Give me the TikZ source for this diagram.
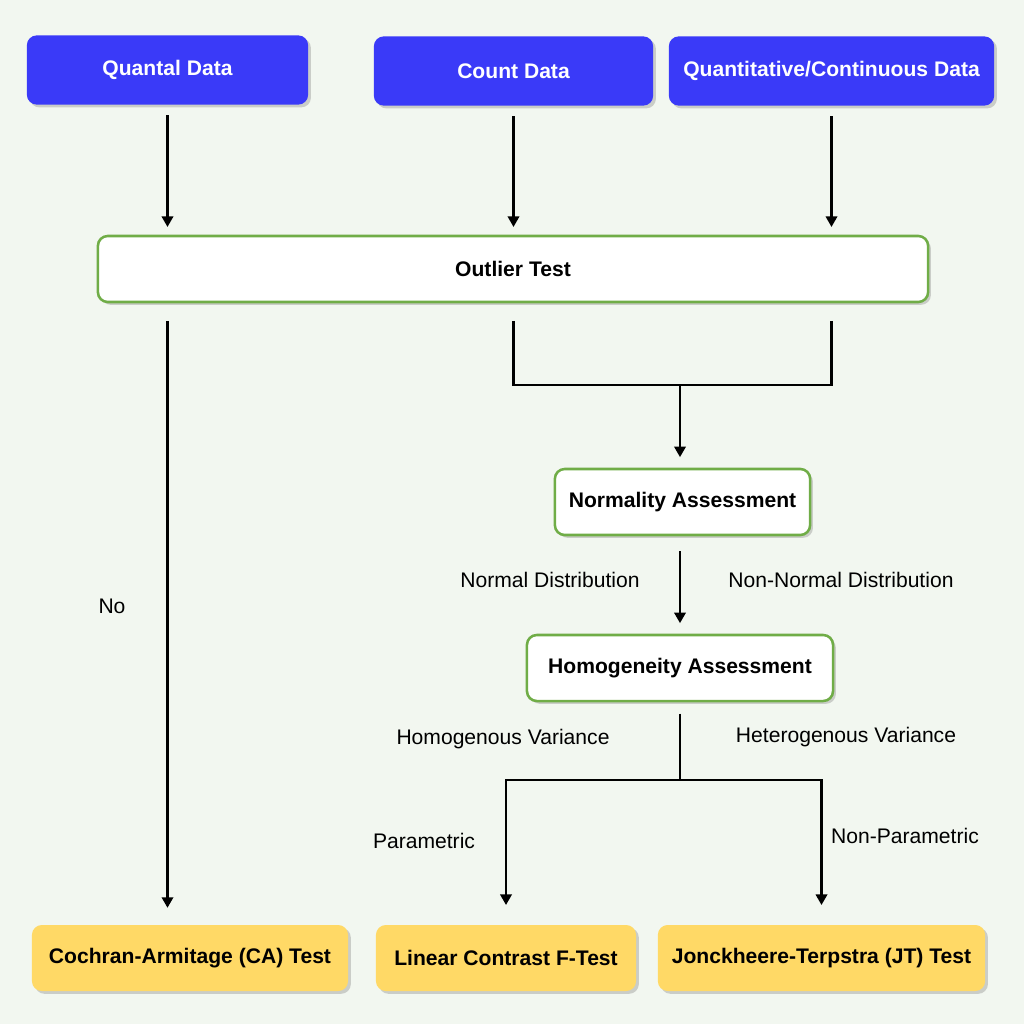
\documentclass[tikz,border=0pt]{standalone}
\usepackage{fontspec}
\setmainfont{Liberation Sans}
\usepackage{tikz}
\usetikzlibrary{calc,positioning,arrows.meta,shadows}

\definecolor{bgtint}{RGB}{242,247,240}
\definecolor{datablue}{RGB}{58,58,248}
\definecolor{stepgreen}{RGB}{112,173,71}
\definecolor{testyellow}{RGB}{255,217,102}

\tikzset{
  box/.style={rounded corners=7pt,inner sep=0pt,align=center,font=\fontsize{15}{18}\selectfont\bfseries,
    drop shadow={opacity=0.35,shadow xshift=2pt,shadow yshift=-2pt}},
  databox/.style={box,fill=datablue,text=white,minimum height=1.73cm},
  checkbox/.style={box,fill=white,draw=stepgreen,line width=1.8pt,minimum height=1.65cm},
  testbox/.style={box,fill=testyellow,minimum height=1.65cm},
  tag/.style={font=\fontsize{15}{18}\selectfont},
  arr/.style={-{Triangle[width=8pt,length=7.5pt]},line width=1.8pt},
  link/.style={line width=1.8pt}
}

\begin{document}
\begin{tikzpicture}[x=0.025cm,y=-0.025cm]
  \fill[bgtint] (0,0) rectangle (1024,1024);
  \useasboundingbox (0,0) rectangle (1024,1024);

  % data types
  \node[databox,minimum width=7.03cm] (qd) at (167.5,70) {Quantal Data};
  \node[databox,minimum width=6.98cm] (cd) at (513.5,71) {Count Data};
  \node[databox,minimum width=8.13cm] (qcd) at (831.5,71) {Quantitative/Continuous Data};

  % checks
  \node[checkbox,minimum width=20.75cm] (out) at (513,269) {Outlier Test};
  \node[checkbox,minimum width=6.38cm] (norm) at (682.5,502) {Normality Assessment};
  \node[checkbox,minimum width=7.65cm] (homo) at (680,668) {Homogeneity Assessment};

  % tests
  \node[testbox,minimum width=7.9cm] (ca) at (190,958) {Cochran-Armitage (CA) Test};
  \node[testbox,minimum width=6.5cm] (lc) at (506,958) {Linear Contrast F-Test};
  \node[testbox,minimum width=8.18cm] (jt) at (821.5,958) {Jonckheere-Terpstra (JT) Test};

  \coordinate (join) at (680,385);
  \coordinate (split) at (680,780);

  % connectors
  \foreach \d in {qd,cd,qcd}{
    \draw[arr,shorten <=7.5pt,shorten >=5.5pt] (\d.south) -- (\d.south |- out.north);
  }
  \draw[arr,shorten <=12.5pt,shorten >=12pt] (qd |- out.south) -- (qd |- ca.north);
  \draw[link,shorten <=12.5pt] (cd |- out.south) |- (join);
  \draw[link,shorten <=12.5pt] (qcd |- out.south) |- (join);
  \draw[arr,shorten >=7.5pt] (join) -- (join |- norm.north);
  \draw[arr,shorten <=10.5pt,shorten >=7.5pt] (join |- norm.south) -- (join |- homo.north);
  \draw[link,shorten <=8pt] (join |- homo.south) -- (split);
  \draw[arr,shorten >=14pt] (split) -| (lc.north);
  \draw[arr,shorten >=14pt] (split) -| (jt.north);

  % labels
  \node[tag] (no) at (112,606) {No};
  \node[tag] (nd) at (550,580) {Normal Distribution};
  \node[tag] (nnd) at (841,580) {Non-Normal Distribution};
  \node[tag] (hov) at (503,739) {Homogenous Variance};
  \node[tag] (hev) at (846,737) {Heterogenous Variance};
  \node[tag] (par) at (424,841) {Parametric};
  \node[tag] (npar) at (905,836) {Non-Parametric};
\end{tikzpicture}
\end{document}
